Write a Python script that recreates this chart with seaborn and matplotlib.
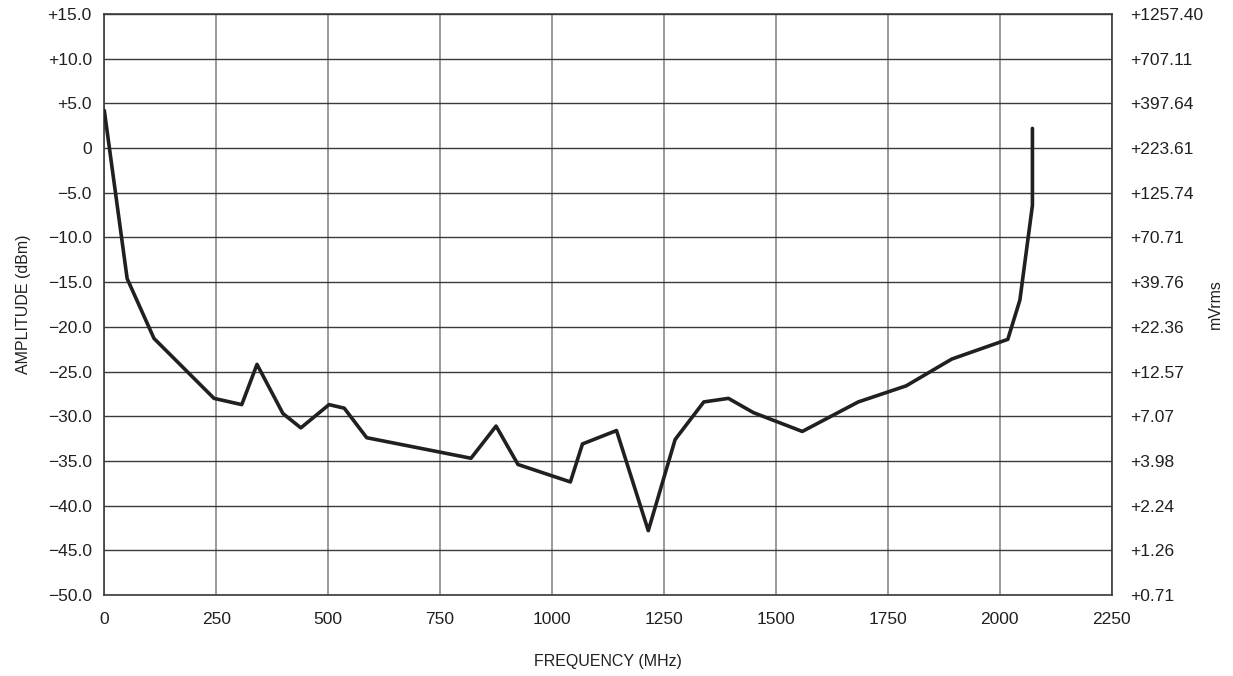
import numpy as np
import pandas as pd
import matplotlib
matplotlib.use("Agg")
import matplotlib.pyplot as plt
import seaborn as sns

# dados
freq_mhz = [0, 51, 111, 245, 307, 341, 399, 439, 502, 536, 586, 819, 875, 924,
            1041, 1068, 1144, 1215, 1275, 1339, 1394, 1450, 1559, 1684, 1791,
            1893, 2018, 2045, 2073, 2073]
amp_dbm = [4.2, -14.6, -21.3, -28.0, -28.7, -24.2, -29.7, -31.3, -28.7, -29.1,
           -32.4, -34.7, -31.1, -35.4, -37.35, -33.1, -31.6, -42.8, -32.6, -28.4,
           -28.0, -29.6, -31.7, -28.4, -26.6, -23.6, -21.4, -17.0, -6.4, 2.2]

x_ticks = [0, 250, 500, 750, 1000, 1250, 1500, 1750, 2000, 2250]
y_ticks = [15, 10, 5, 0, -5, -10, -15, -20, -25, -30, -35, -40, -45, -50]
y_labels = ['+15.0', '+10.0', '+5.0', '0', '\u22125.0', '\u221210.0', '\u221215.0',
            '\u221220.0', '\u221225.0', '\u221230.0', '\u221235.0', '\u221240.0',
            '\u221245.0', '\u221250.0']
mv_labels = ['+1257.40', '+707.11', '+397.64', '+223.61', '+125.74', '+70.71',
             '+39.76', '+22.36', '+12.57', '+7.07', '+3.98', '+2.24', '+1.26', '+0.71']

sns.set_style("white")
plt.rcParams['font.family'] = ['Liberation Sans Narrow', 'Liberation Sans', 'DejaVu Sans']

df = pd.DataFrame({'freq': freq_mhz, 'amp': amp_dbm})

fig = plt.figure(figsize=(12.33, 6.76), dpi=100)
ax = fig.add_axes([0.0846, 0.1198, 0.9016 - 0.0846, 0.9793 - 0.1198])

# grade
for xv in x_ticks:
    ax.axvline(xv, color='#8a8a8a', lw=1.2, zorder=1)
for yv in y_ticks:
    ax.axhline(yv, color='#3a3a3a', lw=1.0, zorder=1)

# estimator=None para nao agregar os dois pontos em 2073 MHz
sns.lineplot(data=df, x='freq', y='amp', ax=ax, sort=False, estimator=None,
             color='#231f20', lw=2.6, zorder=3)

ax.set_xlim(0, 2250)
ax.set_ylim(-50, 15)
ax.set_xticks(x_ticks)
ax.set_xticklabels([str(v) for v in x_ticks])
ax.set_yticks(y_ticks)
ax.set_yticklabels(y_labels)
ax.tick_params(length=0, labelsize=12.5, colors='#231f20', pad=9)
ax.tick_params(axis='x', pad=12)
ax.set_xlabel('FREQUENCY (MHz)', fontsize=11.5, color='#231f20', labelpad=20)
ax.set_ylabel('AMPLITUDE (dBm)', fontsize=11.5, color='#231f20', labelpad=12)
for s in ax.spines.values():
    s.set_color('#3a3a3a')
    s.set_linewidth(1.2)

# eixo direito em mVrms
ax2 = ax.twinx()
ax2.set_ylim(-50, 15)
ax2.set_yticks(y_ticks)
ax2.set_yticklabels(mv_labels)
ax2.tick_params(length=0, labelsize=12.5, colors='#231f20', pad=13)
ax2.set_ylabel('mVrms', fontsize=11.5, color='#231f20', rotation=90, va='center')
ax2.yaxis.set_label_coords(1.1026, 0.5)
for s in ax2.spines.values():
    s.set_visible(False)

fig.savefig('out.png', dpi=100)
